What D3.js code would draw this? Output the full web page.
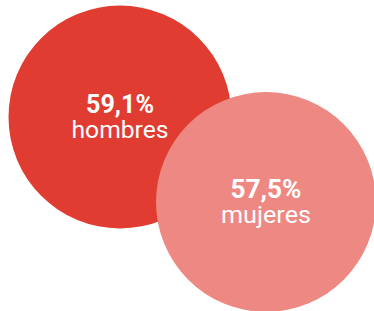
<!DOCTYPE html>
<meta charset="utf-8">
<style>
body{ margin:0; background:#fff; }
text{ font-family: Roboto, "Liberation Sans", sans-serif; fill:#fff; }
text.pct{ font-weight:700; font-size:26px; }
text.lbl{ font-size:24px; }
</style>
<body>
<div id="chart"></div>
<script src="https://d3js.org/d3.v7.min.js"></script>
<script>
var groups = ["hombres", "mujeres"];
var values = [59.1, 57.5];
var labels = ["59,1%", "57,5%"];
var colors = ["#e13c31", "#ee8882"];

var width = 374, height = 311;
// circle centres (layout)
var centres = [[120, 117], [266, 202]];

var r = d3.scaleSqrt().domain([0, d3.max(values)]).range([0, 111.5]);

var svg = d3.select("#chart").append("svg")
	.attr("width", width).attr("height", height);

var g = svg.selectAll(".bubble")
	.data(groups).enter()
	.append("g").attr("class", "bubble")
	.attr("transform", function(d,i){ return "translate(" + centres[i][0] + "," + centres[i][1] + ")"; });

g.append("circle")
	.attr("r", function(d,i){ return r(values[i]); })
	.attr("fill", function(d,i){ return colors[i]; });

g.append("text").attr("class","pct")
	.attr("text-anchor","middle")
	.attr("y", -4)
	.attr("textLength", function(d,i){ return i==0 ? 68 : 71; })
	.attr("lengthAdjust","spacingAndGlyphs")
	.text(function(d,i){ return labels[i]; });

g.append("text").attr("class","lbl")
	.attr("text-anchor","middle")
	.attr("y", 21)
	.attr("textLength", function(d,i){ return i==0 ? 97 : 90; })
	.attr("lengthAdjust","spacingAndGlyphs")
	.text(function(d){ return d; });
</script>
</body>
